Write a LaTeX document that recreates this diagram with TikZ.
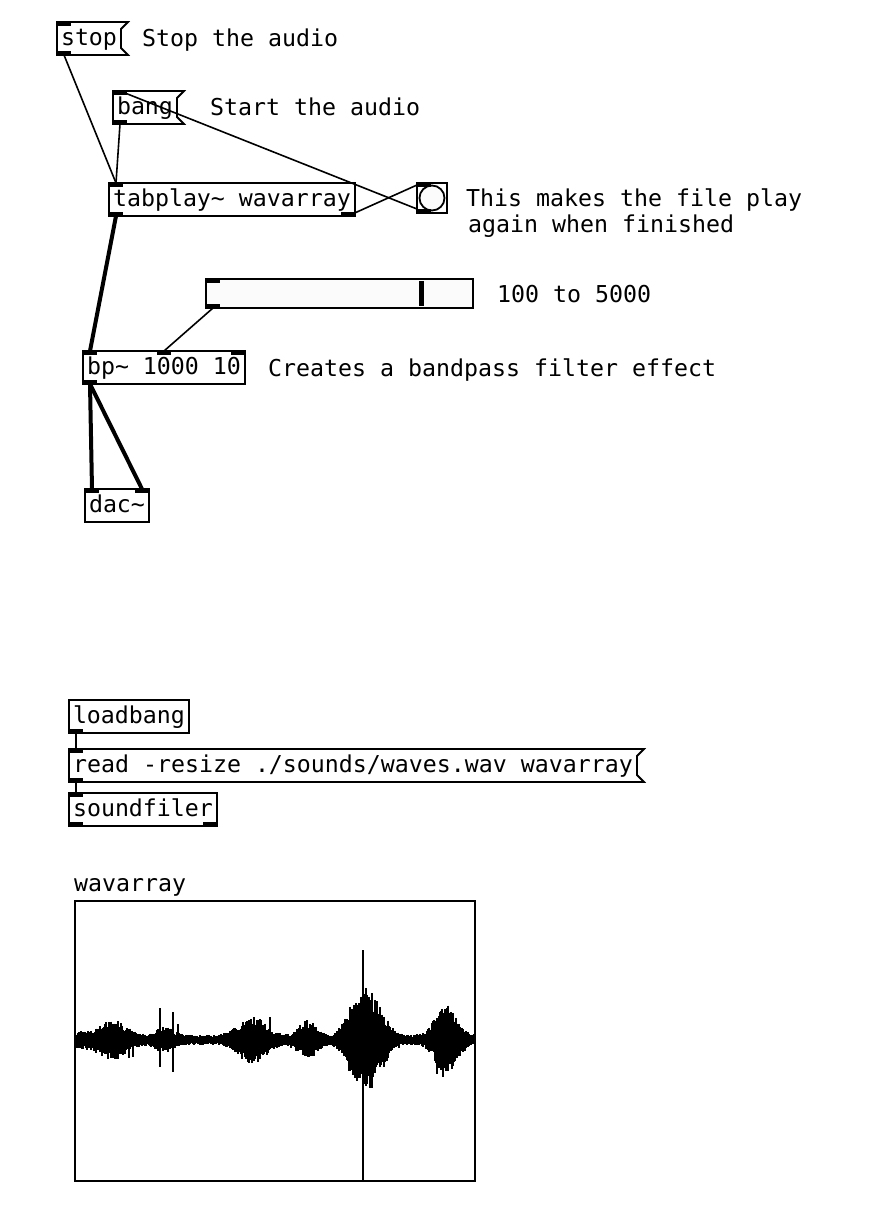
\documentclass[tikz,border=0pt]{standalone}
\usepackage{fontspec}
\setmonofont{DejaVu Sans Mono}
\usetikzlibrary{positioning}

% inlets, outlets and the flag of a message box
\newcommand{\pdin}[2]{\fill ([xshift=#2]#1.north west) rectangle ++(14,4);}
\newcommand{\pdout}[2]{\fill ([xshift=#2]#1.south west) rectangle ++(14,-4);}
\newcommand{\pdflag}[1]{\draw[pdline] (#1.north west) -- ([xshift=7pt]#1.north east) -- ([yshift=-7pt]#1.north east) -- ([yshift=7pt]#1.south east) -- ([xshift=7pt]#1.south east) -- (#1.south west) -- cycle;}

\begin{document}
\begin{tikzpicture}[x=1pt, y=-1pt,
    font=\ttfamily\fontsize{23.25}{28}\selectfont,
    pdline/.style={line width=1.8pt},
    pdobj/.style={draw, pdline, fill=white, anchor=north west, outer sep=0pt, inner xsep=4pt, inner ysep=0pt, minimum height=33pt, text height=17pt, text depth=4pt},
    pdmsg/.style={pdobj, draw=none},
    pdcmt/.style={anchor=base west, inner sep=0pt},
    ctl/.style={line width=1.6pt},
    sig/.style={line width=4pt},
    wave/.style={line width=1.5pt}]
    \useasboundingbox (0,0) rectangle (872,1232);

    % objekte
    \node[pdmsg, minimum width=64pt] (stop) at (57,22) {stop};
    \node[pdmsg, minimum width=64pt] (bang) at (113,91) {bang};
    \node[pdobj, minimum width=246pt] (tabplay) at (109,183) {tabplay\textasciitilde{} wavarray};
    \node[pdobj, minimum width=30pt, minimum height=30pt] (bng) at (417,183) {};
    \node[draw, circle, pdline, inner sep=0pt, minimum size=25pt, fill=gray!3] (bngc) at (bng.center) {};
    \node[pdobj, minimum width=267pt, minimum height=29pt, fill=gray!3] (hsl) at (206,279) {};
    \node[pdobj, minimum width=162pt] (bp) at (83,351) {bp\textasciitilde{} 1000 10};
    \node[pdobj, minimum width=64pt] (dac) at (85,489) {dac\textasciitilde};
    \node[pdobj, minimum width=119pt] (loadbang) at (69,700) {loadbang};
    \node[pdmsg, minimum width=568pt] (readmsg) at (69,749) {read -resize ./sounds/waves.wav wavarray};
    \node[pdobj, minimum width=148pt] (soundfiler) at (69,793) {soundfiler};
    \pdflag{stop}
    \pdflag{bang}
    \pdflag{readmsg}
    \draw[line width=5pt] ([xshift=215pt,yshift=-2pt]hsl.north west) -- ([xshift=215pt,yshift=2pt]hsl.south west);

    % ein- und ausgaenge
    \pdin{stop}{0} \pdout{stop}{0}
    \pdin{bang}{0} \pdout{bang}{0}
    \pdin{tabplay}{0} \pdout{tabplay}{0} \pdout{tabplay}{232}
    \pdin{bng}{0} \pdout{bng}{0}
    \pdin{hsl}{0} \pdout{hsl}{0}
    \pdin{bp}{0} \pdin{bp}{74} \pdin{bp}{148} \pdout{bp}{0}
    \pdin{dac}{0} \pdin{dac}{50}
    \pdout{loadbang}{0}
    \pdin{readmsg}{0} \pdout{readmsg}{0}
    \pdin{soundfiler}{0} \pdout{soundfiler}{0} \pdout{soundfiler}{134}

    % kommentare
    \node[pdcmt] (cstop) at (142,46) {Stop the audio};
    \node[pdcmt] (cstart) at (210,115) {Start the audio};
    \node[pdcmt] (cloop1) at (466,206) {This makes the file play};
    \node[pdcmt] (cloop2) at (468,232) {again when finished};
    \node[pdcmt] (crange) at (497,302) {100 to 5000};
    \node[pdcmt] (cbp) at (268,376) {Creates a bandpass filter effect};

    % verbindungen
    \draw[ctl] ([xshift=7pt]stop.south west) -- ([xshift=7pt]tabplay.north west);
    \draw[ctl] ([xshift=7pt]bang.south west) -- ([xshift=7pt]tabplay.north west);
    \draw[ctl] ([yshift=4pt]bng.south west) -- ([xshift=7pt]bang.north west);
    \draw[ctl] ([xshift=-7pt]tabplay.south east) -- ([yshift=-2pt]bng.north west);
    \draw[sig] ([xshift=7pt]tabplay.south west) -- ([xshift=7pt]bp.north west);
    \draw[ctl] ([xshift=7pt]hsl.south west) -- ([xshift=81pt]bp.north west);
    \draw[sig] ([xshift=7pt]bp.south west) -- ([xshift=7pt]dac.north west);
    \draw[sig] ([xshift=7pt]bp.south west) -- ([xshift=-7pt]dac.north east);
    \draw[ctl] ([xshift=7pt]loadbang.south west) -- ([xshift=7pt]readmsg.north west);
    \draw[ctl] ([xshift=7pt]readmsg.south west) -- ([xshift=7pt]soundfiler.north west);

    % array
    \node[pdcmt] (graphlabel) at (74,891) {wavarray};
    \node[draw, pdline, anchor=north west, outer sep=0pt, inner sep=0pt, minimum width=400pt, minimum height=280pt] (graph) at (75,901) {};
    \pgfmathsetseed{42}
    \foreach \x in {76,...,474}{
        \pgfmathsetmacro{\env}{5+6*exp(max(-9,-((\x-100)/30)^2))+10*exp(max(-9,-((\x-115)/16)^2))+8*exp(max(-9,-((\x-165)/12)^2))+20*exp(max(-9,-((\x-252)/18)^2))+15*exp(max(-9,-((\x-307)/12)^2))+14*exp(max(-9,-((\x-350)/10)^2))+44*exp(max(-9,-((\x-369)/18)^2))+30*exp(max(-9,-((\x-446)/15)^2))}
        \pgfmathsetmacro{\up}{\env*(0.55+0.45*rnd)}
        \pgfmathsetmacro{\dn}{\env*(0.55+0.45*rnd)}
        \draw[wave] (\x,1040-\up) -- (\x,1040+\dn);
    }
    \foreach \sx/\su/\sd in {160/1008/1067, 173/1012/1072, 178/1024/1046, 129/1031/1058, 133/1033/1057, 270/1017/1048, 357/1015/1062, 366/988/1084, 372/993/1088, 443/1013/1077, 437/1018/1074}
        \draw[wave] (\sx,\su) -- (\sx,\sd);
    \draw[line width=2pt] (363,950) -- ([xshift=288pt]graph.south west);
\end{tikzpicture}
\end{document}
